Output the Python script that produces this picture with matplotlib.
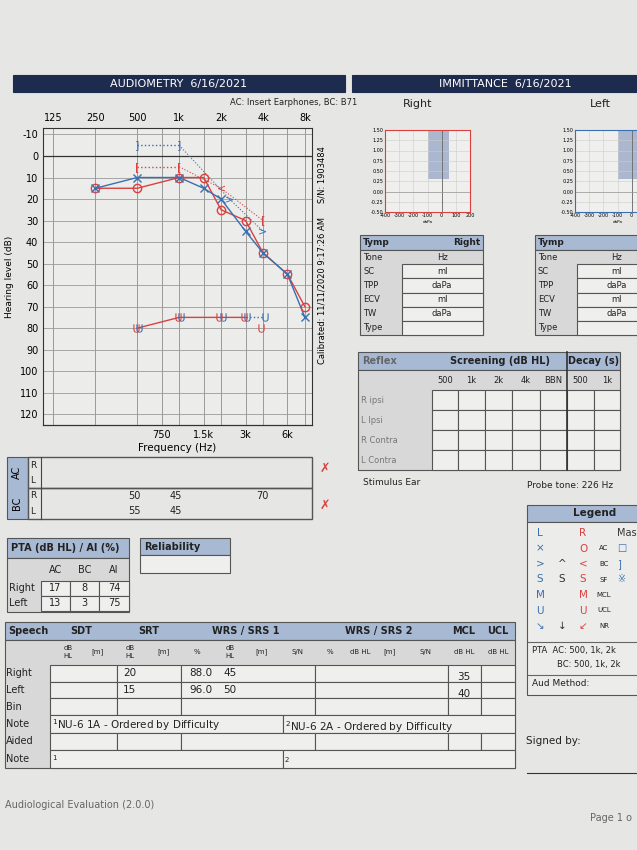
import numpy as np
import matplotlib
matplotlib.use("Agg")
import matplotlib.pyplot as plt
from matplotlib.patches import Rectangle

plt.rcParams["axes.unicode_minus"] = False

# audiogram data
FREQ_LABELS_TOP = ["125", "250", "500", "1k", "2k", "4k", "8k"]
FREQ_LABELS_BOT = ["750", "1.5k", "3k", "6k"]
AC_FREQS = [250, 500, 1000, 1500, 2000, 3000, 4000, 6000, 8000]
RIGHT_AC = [15, 15, 10, 10, 25, 30, 45, 55, 70]
LEFT_AC = [15, 10, 10, 15, 20, 35, 45, 55, 75]
RIGHT_MBC_FREQS = [500, 1000]
RIGHT_MBC = [5, 5]
LEFT_MBC_FREQS = [500, 1000]
LEFT_MBC = [-5, -5]
RIGHT_BC_FREQS = [2000]
RIGHT_BC = [15]
RIGHT_MBC2_FREQS = [4000]
RIGHT_MBC2 = [30]
LEFT_BC_FREQS = [2300, 4000]
LEFT_BC = [20, 35]
UCL_FREQS = [500, 1000, 2000, 3000, 4000]
RIGHT_UCL = [80, 75, 75, 75, 80]
LEFT_UCL = [80, 75, 75, 75, 75]

BC_MASK_R = [("50", 134), ("45", 176), ("70", 262)]
BC_MASK_L = [("55", 134), ("45", 176)]

PTA_COLS = ["AC", "BC", "AI"]
PTA_RIGHT = ["17", "8", "74"]
PTA_LEFT = ["13", "3", "75"]

NAVY = "#1d2b4f"
HEAD = "#a8b9d3"
RED = "#d9413f"
BLUE = "#3a6fb0"
BG = "#e6e6e4"
GRID = "#9a9a9a"

fig = plt.figure(figsize=(6.37, 8.5), dpi=100, facecolor=BG)
page = fig.add_axes([0, 0, 1, 1])
page.set_xlim(0, 637)
page.set_ylim(850, 0)
page.axis("off")


def box(x0, y0, x1, y1, fc="none", ec="#555555", lw=0.8):
    page.add_patch(Rectangle((x0, y0), x1 - x0, y1 - y0, fc=fc, ec=ec, lw=lw))


def txt(x, y, s, size=7, ha="left", color="#222222", **kw):
    page.text(x, y, s, fontsize=size, ha=ha, va="center", color=color, **kw)


def to_ax(px0, py0, px1, py1):
    return [px0 / 637, 1 - py1 / 850, (px1 - px0) / 637, (py1 - py0) / 850]


# headers
box(13, 75, 345, 92, fc=NAVY, ec=NAVY)
txt(179, 84, "AUDIOMETRY  6/16/2021", 8, "center", "white")
box(352, 75, 640, 92, fc=NAVY, ec=NAVY)
txt(505, 84, "IMMITTANCE  6/16/2021", 8, "center", "white")
txt(357, 102, "AC: Insert Earphones, BC: B71", 6, "right")

# audiogram
def oct(f):
    return np.log2(np.asarray(f, dtype=float) / 125)

ax = fig.add_axes(to_ax(43, 128, 312, 425))
ax.set_facecolor("#ececea")
ax.set_xlim(-0.25, 6.17)
ax.set_ylim(125, -13)
for i in range(7):
    ax.axvline(i, color=GRID, lw=0.7)
for f in [750, 1500, 3000, 6000]:
    ax.axvline(oct(f), color=GRID, lw=0.7)
for y in range(-10, 121, 10):
    ax.axhline(y, color="#333333" if y == 0 else GRID, lw=0.9 if y == 0 else 0.6)
ax.set_yticks(range(-10, 121, 10))
ax.set_xticks(range(7))
ax.set_xticklabels(FREQ_LABELS_TOP)
ax.xaxis.tick_top()
ax.tick_params(length=0, labelsize=7)
ax.set_ylabel("Hearing level (dB)", fontsize=6.5)
sec = ax.secondary_xaxis("bottom")
sec.set_xticks(oct([750, 1500, 3000, 6000]))
sec.set_xticklabels(FREQ_LABELS_BOT)
sec.tick_params(length=0, labelsize=7)
sec.set_xlabel("Frequency (Hz)", fontsize=7.5, labelpad=2)
for s in ax.spines.values():
    s.set_color("#333333")

x_ac = oct(AC_FREQS)
ax.plot(x_ac, RIGHT_AC, color=RED, lw=1)
ax.plot(x_ac, LEFT_AC, color=BLUE, lw=1)
ax.plot(x_ac, RIGHT_AC, "o", ms=6, mfc="none", mec=RED, mew=1)
ax.plot(x_ac, LEFT_AC, "x", ms=6, mec=BLUE, mew=1)
ax.plot(oct(RIGHT_MBC_FREQS), RIGHT_MBC, ":", color=RED, lw=1)
ax.plot(oct(LEFT_MBC_FREQS), LEFT_MBC, ":", color=BLUE, lw=1)
for fx, yv, col, m in [(RIGHT_MBC_FREQS, RIGHT_MBC, RED, "["),
                       (LEFT_MBC_FREQS, LEFT_MBC, BLUE, "]"),
                       (RIGHT_MBC2_FREQS, RIGHT_MBC2, RED, "["),
                       (RIGHT_BC_FREQS, RIGHT_BC, RED, "<"),
                       (LEFT_BC_FREQS, LEFT_BC, BLUE, ">")]:
    for xv, v in zip(oct(fx), yv):
        ax.text(xv, v, m, color=col, fontsize=8, ha="center", va="center")
ax.plot(oct([1000] + RIGHT_BC_FREQS + RIGHT_MBC2_FREQS), [5] + RIGHT_BC + RIGHT_MBC2, ":", color=RED, lw=0.8)
ax.plot(oct([1000] + LEFT_BC_FREQS), [-5] + LEFT_BC, ":", color=BLUE, lw=0.8)
xu = oct(UCL_FREQS)
ax.plot(xu[:4], RIGHT_UCL[:4], color=RED, lw=1)
ax.plot(xu[3:], LEFT_UCL[3:], ":", color=BLUE, lw=1)
ax.plot(xu - 0.04, RIGHT_UCL, ls="none", marker=r"$\mathrm{U}$", ms=6, color=RED, mew=0)
ax.plot(xu + 0.04, LEFT_UCL, ls="none", marker=r"$\mathrm{U}$", ms=6, color=BLUE, mew=0)

page.text(322, 175, "S/N: 1903484", fontsize=6, rotation=90, ha="center", va="center")
page.text(322, 290, "Calibrated: 11/11/2020 9:17:26 AM", fontsize=6, rotation=90, ha="center", va="center")

# masking box
box(7, 457, 28, 519, fc=HEAD)
page.text(17, 472, "AC", fontsize=7, rotation=90, ha="center", va="center")
page.text(17, 503, "BC", fontsize=7, rotation=90, ha="center", va="center")
box(28, 457, 312, 488, lw=1)
box(28, 488, 312, 519, lw=1)
page.plot([41, 41], [457, 519], color="#444444", lw=0.8)
for y, s in [(465, "R"), (480, "L"), (495, "R"), (511, "L")]:
    txt(30, y, s, 6.5)
for s, x in BC_MASK_R:
    txt(x, 496, s, 7, "center")
for s, x in BC_MASK_L:
    txt(x, 511, s, 7, "center")
txt(325, 468, "✗", 9, "center", RED)
txt(325, 505, "✗", 9, "center", RED)

# PTA table
box(7, 538, 129, 558, fc=HEAD)
txt(11, 548, "PTA (dB HL) / AI (%)", 7, weight="bold")
box(7, 558, 129, 612, fc="#d8d8d8")
cols = [41, 70, 99, 129]
for i, c in enumerate(PTA_COLS):
    txt((cols[i] + cols[i + 1]) / 2, 570, c, 7, "center")
for row, y, vals in [("Right", 588, PTA_RIGHT), ("Left", 603, PTA_LEFT)]:
    txt(9, y, row, 7)
    for i, v in enumerate(vals):
        box(cols[i], y - 7, cols[i + 1], y + 8, fc="#efefed")
        txt((cols[i] + cols[i + 1]) / 2, y, v, 7, "center")
box(140, 538, 230, 555, fc=HEAD)
txt(144, 547, "Reliability", 7, weight="bold")
box(140, 555, 230, 573, fc="#efefed")

# speech table
box(5, 622, 515, 640, fc=HEAD)
for s, x in [("Speech", 8), ("SDT", 70), ("SRT", 138), ("WRS / SRS 1", 212), ("WRS / SRS 2", 345), ("MCL", 452), ("UCL", 487)]:
    txt(x, 631, s, 7, weight="bold")
box(5, 640, 515, 768, fc="#d8d8d8")
subs = [(68, "dB\nHL"), (98, "[m]"), (130, "dB\nHL"), (163, "[m]"), (197, "%"), (230, "dB\nHL"), (262, "[m]"), (298, "S/N"),
        (330, "%"), (360, "dB HL"), (390, "[m]"), (425, "S/N"), (464, "dB HL"), (498, "dB HL")]
for x, s in subs:
    txt(x, 652, s, 5, "center")
rows = [("Right", 665, 682), ("Left", 682, 698), ("Bin", 698, 715), ("Note", 715, 733), ("Aided", 733, 750), ("Note", 750, 768)]
bounds = [50, 117, 181, 315, 448, 481, 515]
for name, y0, y1 in rows:
    txt(6, (y0 + y1) / 2, name, 7)
    if name == "Note":
        box(50, y0, 283, y1, fc="#efefed")
        box(283, y0, 515, y1, fc="#efefed")
    else:
        for a, b in zip(bounds[:-1], bounds[1:]):
            box(a, y0, b, y1, fc="#efefed")
txt(123, 673, "20", 7.5); txt(123, 690, "15", 7.5)
txt(189, 673, "88.0", 7.5); txt(223, 673, "45", 7.5)
txt(189, 690, "96.0", 7.5); txt(223, 690, "50", 7.5)
txt(464, 677, "35", 7.5, "center"); txt(464, 694, "40", 7.5, "center")
txt(52, 725, "$^1$NU-6 1A - Ordered by Difficulty", 7.5)
txt(285, 727, "$^2$NU-6 2A - Ordered by Difficulty", 7.5)
txt(52, 758, "1", 5); txt(285, 760, "2", 5)

# legend
box(527, 505, 640, 522, fc=HEAD)
txt(595, 513, "Legend", 7.5, "center", weight="bold")
box(527, 522, 640, 695, fc="#ececea")
leg_rows = [("L", "", "R", "", "Mas"), ("×", "", "O", "AC", "□"), (">", "^", "<", "BC", "]"),
            ("S", "S", "S", "SF", "※"), ("M", "", "M", "MCL", ""), ("U", "", "U", "UCL", ""), ("↘", "↓", "↙", "NR", "")]
for i, (l, m, r, lab, mk) in enumerate(leg_rows):
    y = 533 + i * 15.5
    txt(540, y, l, 7.5, "center", BLUE)
    txt(562, y, m, 7.5, "center", "#333333")
    txt(583, y, r, 7.5, "center", RED)
    txt(604, y, lab, 5, "center")
    txt(617, y, mk, 7, "left", BLUE if mk in ("□", "]", "※") else "#333333")
page.plot([527, 640], [642, 642], color="#666666", lw=0.8)
page.plot([527, 640], [675, 675], color="#666666", lw=0.8)
txt(532, 650, "PTA  AC: 500, 1k, 2k", 6)
txt(557, 665, "BC: 500, 1k, 2k", 6)
txt(532, 684, "Aud Method:", 6.5)
txt(526, 741, "Signed by:", 7.5)
page.plot([527, 640], [773, 773], color="#333333", lw=0.8)

# immittance
txt(418, 104, "Right", 8, "center")
txt(600, 104, "Left", 8, "center")
for (x0, x1), col in [((385, 470), RED), ((575, 660), BLUE)]:
    t = fig.add_axes(to_ax(x0, 130, x1, 212))
    t.set_facecolor("#efefed")
    t.set_xlim(-400, 200)
    t.set_ylim(-0.5, 1.5)
    t.add_patch(Rectangle((-100, 0.3), 150, 1.2, fc="#9aa8c8", ec="none", alpha=0.8))
    t.axvline(0, color="#666666", lw=0.6)
    t.axhline(0, color="#999999", lw=0.5)
    t.set_xticks([-400, -300, -200, -100, 0, 100, 200])
    t.set_yticks([-0.5, -0.25, 0, 0.25, 0.5, 0.75, 1.0, 1.25, 1.5])
    t.set_yticklabels(["-0.50", "-0.25", "0.00", "0.25", "0.50", "0.75", "1.00", "1.25", "1.50"])
    t.tick_params(length=0, labelsize=3.5, pad=1)
    t.set_xlabel("daPa", fontsize=3, labelpad=1)
    t.grid(color="#cccccc", lw=0.4)
    for s in t.spines.values():
        s.set_color(col)

for x0, x1, hdr in [(360, 483, "Right"), (535, 645, "")]:
    box(x0, 235, x1, 250, fc=HEAD)
    txt(x0 + 3, 242, "Tymp", 6.5, weight="bold")
    if hdr:
        txt(x1 - 3, 242, hdr, 6.5, "right", weight="bold")
    box(x0, 250, x1, 335, fc="#d8d8d8")
    for i, (lab, unit) in enumerate([("Tone", "Hz"), ("SC", "ml"), ("TPP", "daPa"), ("ECV", "ml"), ("TW", "daPa"), ("Type", "")]):
        y = 250 + i * 14.2
        txt(x0 + 3, y + 7, lab, 6)
        if i > 0:
            box(x0 + 42, y, x1, y + 14.2, fc="#efefed")
        txt(x0 + 82, y + 7, unit, 6, "center")

box(358, 352, 620, 370, fc=HEAD)
txt(362, 361, "Reflex", 7, color="#666666", weight="bold")
txt(500, 361, "Screening (dB HL)", 7, "center", weight="bold")
txt(594, 361, "Decay (s)", 7, "center", weight="bold")
box(358, 370, 620, 470, fc="#d8d8d8")
rb = [432, 458, 485, 512, 540, 567, 594, 620]
for i, s in enumerate(["500", "1k", "2k", "4k", "BBN", "500", "1k"]):
    txt((rb[i] + rb[i + 1]) / 2, 380, s, 6, "center")
for j, s in enumerate(["R ipsi", "L Ipsi", "R Contra", "L Contra"]):
    y0 = 390 + j * 20
    txt(361, y0 + 10, s, 6, color="#777777")
    for a, b in zip(rb[:-1], rb[1:]):
        box(a, y0, b, y0 + 20, fc="#efefed")
page.plot([567, 567], [352, 470], color="#333333", lw=1.2)
txt(363, 482, "Stimulus Ear", 6.5)
txt(527, 485, "Probe tone: 226 Hz", 6.5)

txt(5, 805, "Audiological Evaluation (2.0.0)", 7, color="#666666")
txt(590, 818, "Page 1 o", 7, color="#666666")

fig.savefig("out.png", dpi=100, facecolor=BG)
